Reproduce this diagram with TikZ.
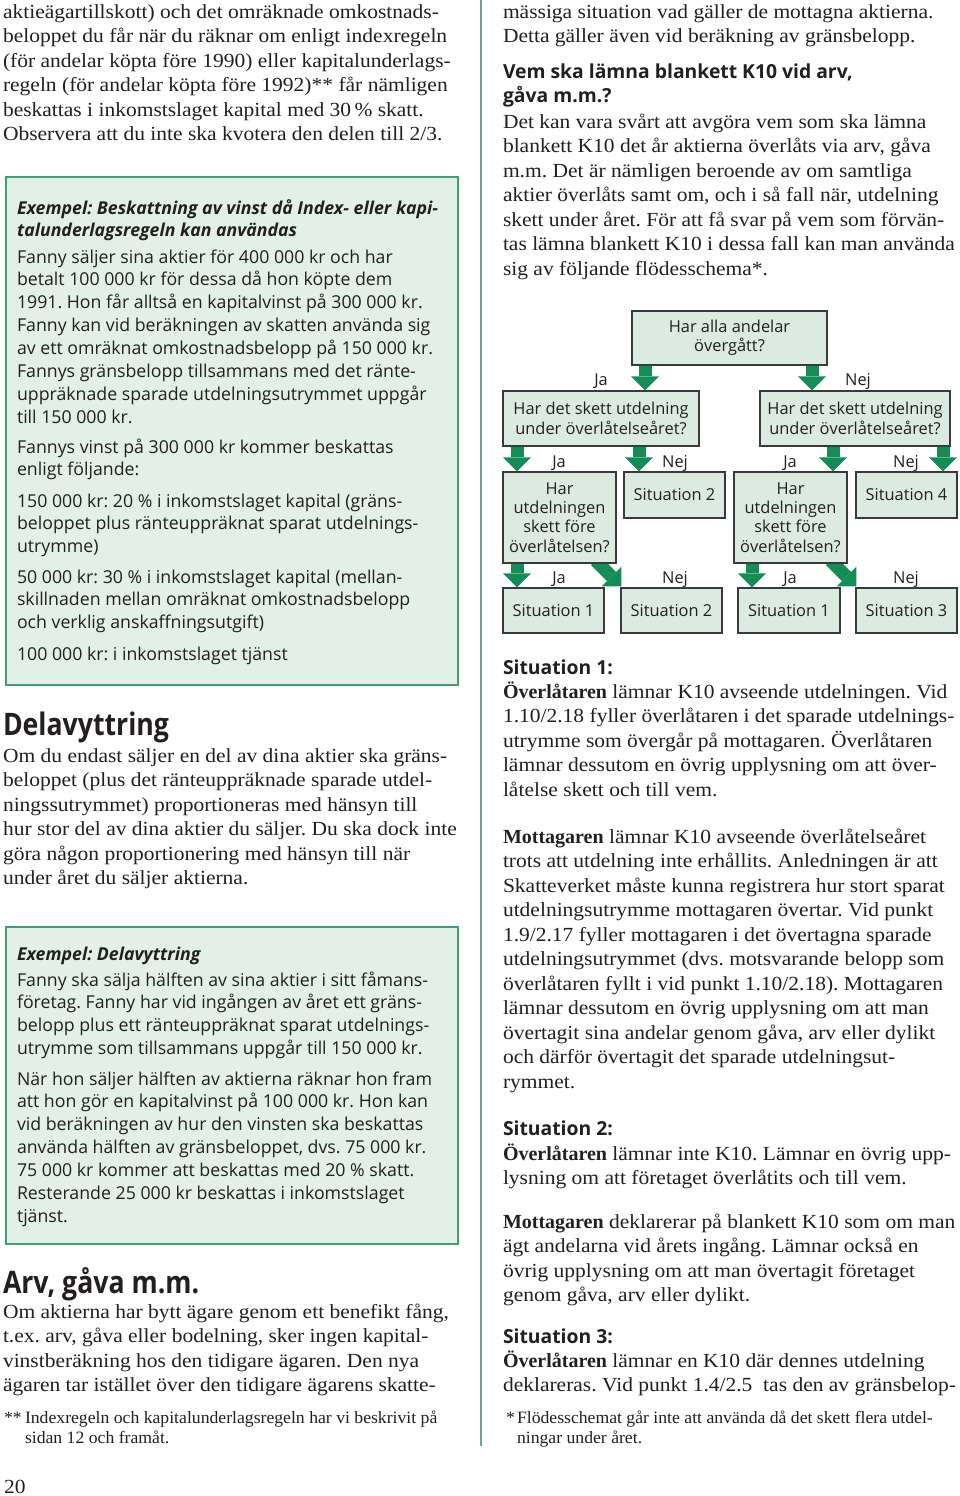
\documentclass[tikz,border=0pt]{standalone}
\usepackage{fontspec}
\setmainfont{Liberation Serif}[FakeStretch=1.075, BoldFeatures={FakeStretch=1.0}]
\setsansfont{Open Sans}
\newfontfamily\headfont{Open Sans}[FakeStretch=0.86]
\newfontfamily\notefont{Liberation Serif}[FakeStretch=1.02]
\usetikzlibrary{arrows.meta,calc}
\pgfdeclarelayer{bg}
\pgfsetlayers{bg,main}
\definecolor{ink}{HTML}{231F20}
\definecolor{exfill}{HTML}{E2F0E7}
\definecolor{exline}{HTML}{3F9F73}
\definecolor{flfill}{HTML}{DCEBE2}
\definecolor{flline}{HTML}{3A3A3A}
\definecolor{arrowc}{HTML}{138C55}
\definecolor{rulec}{HTML}{6FA58C}
\frenchspacing
\newcommand\ls[1]{\vtop{\lineskiplimit=-100pt\lineskip=0pt\halign{##\hfil\cr#1\crcr}}}
\tikzset{
  txt/.style={anchor=base west, inner sep=0pt, outer sep=0pt, text=ink},
  body/.style={txt, font=\fontsize{15pt}{18.4pt}\selectfont},
  sbody/.style={txt, font=\sffamily\fontsize{13.3pt}{17.2pt}\selectfont},
  sbhead/.style={txt, font=\sffamily\bfseries\itshape\fontsize{13.3pt}{17.2pt}\selectfont},
  bighead/.style={txt, font=\headfont\bfseries\fontsize{23.25pt}{28pt}\selectfont},
  subhead/.style={txt, font=\sffamily\bfseries\fontsize{14.5pt}{18pt}\selectfont},
  note/.style={txt, font=\notefont\fontsize{13pt}{15pt}\selectfont},
  exbox/.style={draw=exline, fill=exfill, line width=1.5pt, anchor=north west, inner sep=0pt},
  flbox/.style={draw=flline, fill=flfill, line width=0.8pt, inner sep=0pt, align=center, text=ink,
    font=\sffamily\fontsize{12.3pt}{14.6pt}\selectfont},
  fllab/.style={anchor=base, inner sep=0pt, text=ink, font=\sffamily\fontsize{12.3pt}{14.6pt}\selectfont},
  garrow/.style={draw=arrowc, line width=9.75pt,
    -{Triangle[width=21pt 0 0, length=10.5pt 0 0, line width=0pt 0 0, fill=arrowc]}},
}
\begin{document}
\begin{tikzpicture}[x=0.75pt, y=-0.75pt]
\useasboundingbox (0,0) rectangle (960,1496);
\begin{pgfonlayer}{bg}
\fill[white] (0,0) rectangle (960,1496);
\end{pgfonlayer}

% column divider
\draw[rulec, line width=1.1pt] (481,0) -- (481,1446);

% ---------------- left column ----------------
\node[body] (p1) at (3,18) {\ls{%
aktieägartillskott) och det omräknade omkostnads-\cr
beloppet du får när du räknar om enligt indexregeln\cr
(för andelar köpta före 1990) eller kapitalunderlags-\cr
regeln (för andelar köpta före 1992)** får nämligen\cr
beskattas i inkomstslaget kapital med 30\,\% skatt.\cr
Observera att du inte ska kvotera den delen till 2/3.}};

\node[exbox, minimum width=339pt, minimum height=381pt] (ex1) at (5,176) {};
\node[sbhead] (ex1h) at (17,214) {\ls{%
Exempel: Beskattning av vinst då Index- eller kapi-\cr
talunderlagsregeln kan användas}};
\node[sbody] (ex1a) at (17,263) {\ls{%
Fanny säljer sina aktier för 400 000 kr och har\cr
betalt 100 000 kr för dessa då hon köpte dem\cr
1991. Hon får alltså en kapitalvinst på 300 000 kr.\cr
Fanny kan vid beräkningen av skatten använda sig\cr
av ett omräknat omkostnadsbelopp på 150 000 kr.\cr
Fannys gränsbelopp tillsammans med det ränte-\cr
uppräknade sparade utdelningsutrymmet uppgår\cr
till 150 000 kr.}};
\node[sbody] (ex1b) at (17,453) {\ls{%
Fannys vinst på 300 000 kr kommer beskattas\cr
enligt följande:}};
\node[sbody] (ex1c) at (17,507) {\ls{%
150 000 kr: 20 \% i inkomstslaget kapital (gräns-\cr
beloppet plus ränteuppräknat sparat utdelnings-\cr
utrymme)}};
\node[sbody] (ex1d) at (17,583) {\ls{%
50 000 kr: 30 \% i inkomstslaget kapital (mellan-\cr
skillnaden mellan omräknat omkostnadsbelopp\cr
och verklig anskaffningsutgift)}};
\node[sbody] (ex1e) at (17,660) {100 000 kr: i inkomstslaget tjänst};

\node[bighead] (h1) at (3,735) {Delavyttring};
\node[body] (p2) at (3,762) {\ls{%
Om du endast säljer en del av dina aktier ska gräns-\cr
beloppet (plus det ränteuppräknade sparade utdel-\cr
ningssutrymmet) proportioneras med hänsyn till\cr
hur stor del av dina aktier du säljer. Du ska dock inte\cr
göra någon proportionering med hänsyn till när\cr
under året du säljer aktierna.}};

\node[exbox, minimum width=339pt, minimum height=237.75pt] (ex2) at (5,926) {};
\node[sbhead] (ex2h) at (17,960) {Exempel: Delavyttring};
\node[sbody] (ex2a) at (17,986) {\ls{%
Fanny ska sälja hälften av sina aktier i sitt fåmans-\cr
företag. Fanny har vid ingången av året ett gräns-\cr
belopp plus ett ränteuppräknat sparat utdelnings-\cr
utrymme som tillsammans uppgår till 150 000 kr.}};
\node[sbody] (ex2b) at (17,1085) {\ls{%
När hon säljer hälften av aktierna räknar hon fram\cr
att hon gör en kapitalvinst på 100 000 kr. Hon kan\cr
vid beräkningen av hur den vinsten ska beskattas\cr
använda hälften av gränsbeloppet, dvs. 75 000 kr.\cr
75 000 kr kommer att beskattas med 20 \% skatt.\cr
Resterande 25 000 kr beskattas i inkomstslaget\cr
tjänst.}};

\node[bighead] (h2) at (3,1293) {Arv, gåva m.m.};
\node[body] (p3) at (3,1318) {\ls{%
Om aktierna har bytt ägare genom ett benefikt fång,\cr
t.ex. arv, gåva eller bodelning, sker ingen kapital-\cr
vinstberäkning hos den tidigare ägaren. Den nya\cr
ägaren tar istället över den tidigare ägarens skatte-}};

\node[note] (fn1s) at (4,1423) {**};
\node[note] (fn1) at (25,1423) {\ls{%
Indexregeln och kapitalunderlagsregeln har vi beskrivit på\cr
sidan 12 och framåt.}};
\node[body] (pg) at (4,1493) {20};

% ---------------- right column ----------------
\node[body] (r1) at (503,18) {\ls{%
mässiga situation vad gäller de mottagna aktierna.\cr
Detta gäller även vid beräkning av gränsbelopp.}};
\node[subhead] (rh1) at (503,78.5) {\ls{%
Vem ska lämna blankett K10 vid arv,\cr
gåva m.m.?}};
\node[body] (r2) at (503,128) {\ls{%
Det kan vara svårt att avgöra vem som ska lämna\cr
blankett K10 det år aktierna överlåts via arv, gåva\cr
m.m. Det är nämligen beroende av om samtliga\cr
aktier överlåts samt om, och i så fall när, utdelning\cr
skett under året. För att få svar på vem som förvän-\cr
tas lämna blankett K10 i dessa fall kan man använda\cr
sig av följande flödesschema*.}};

% flowchart boxes
\node[flbox, minimum width=146.25pt, minimum height=40.5pt] (top) at (729.5,338) {Har alla andelar\\övergått?};
\node[flbox, minimum width=147pt, minimum height=41.25pt] (l2l) at (601,418.5) {Har det skett utdelning\\under överlåtelseåret?};
\node[flbox, minimum width=142.5pt, minimum height=41.25pt] (l2r) at (855,418.5) {Har det skett utdelning\\under överlåtelseåret?};
\node[flbox, minimum width=84.75pt, minimum height=68.25pt] (q3l) at (559.5,517.5) {Har\\utdelningen\\skett före\\överlåtelsen?};
\node[flbox, minimum width=75.75pt, minimum height=34.5pt] (s2a) at (674.5,495) {Situation 2};
\node[flbox, minimum width=84.75pt, minimum height=68.25pt] (q3r) at (790.5,517.5) {Har\\utdelningen\\skett före\\överlåtelsen?};
\node[flbox, minimum width=75.75pt, minimum height=34.5pt] (s4) at (906.5,495) {Situation 4};
\node[flbox, minimum width=75.75pt, minimum height=33.75pt] (s1a) at (553.5,610.5) {Situation 1};
\node[flbox, minimum width=75.75pt, minimum height=33.75pt] (s2b) at (671.5,610.5) {Situation 2};
\node[flbox, minimum width=76.5pt, minimum height=33.75pt] (s1b) at (789,610.5) {Situation 1};
\node[flbox, minimum width=75.75pt, minimum height=33.75pt] (s3) at (906.5,610.5) {Situation 3};

% x positions of vertical arrows
\coordinate (ax1) at (645,0);
\coordinate (ax2) at (812,0);
\coordinate (ax3) at (517,0);
\coordinate (ax4) at (639,0);
\coordinate (ax5) at (833,0);
\coordinate (ax6) at (943,0);
\coordinate (ax7) at (752,0);

\begin{pgfonlayer}{bg}
\draw[garrow] (top.south -| ax1) -- (l2l.north -| ax1);
\draw[garrow] (top.south -| ax2) -- (l2r.north -| ax2);
\draw[garrow] (l2l.south -| ax3) -- (q3l.north -| ax3);
\draw[garrow] (l2l.south -| ax4) -- (s2a.north -| ax4);
\draw[garrow] (l2r.south -| ax5) -- (q3r.north -| ax5);
\draw[garrow] (l2r.south -| ax6) -- (s4.north -| ax6);
\draw[garrow] (q3l.south -| ax3) -- (s1a.north -| ax3);
\draw[garrow] ($(q3l.south east)+(-21,-3)$) -- ($(s2b.north west)+(1,-1)$);
\draw[garrow] (q3r.south -| ax7) -- (s1b.north -| ax7);
\draw[garrow] ($(q3r.south east)+(-17,-3)$) -- ($(s3.north west)+(1,-1)$);
\end{pgfonlayer}

% flowchart labels
\node[fllab] (j1) at (601,385) {Ja};
\node[fllab] (n1) at (858,385) {Nej};
\node[fllab] (j2) at (559,467) {Ja};
\node[fllab] (n2) at (675,467) {Nej};
\node[fllab] (j3) at (790,467) {Ja};
\node[fllab] (n3) at (906,467) {Nej};
\node[fllab] (j4) at (559,583) {Ja};
\node[fllab] (n4) at (675,583) {Nej};
\node[fllab] (j5) at (790,583) {Ja};
\node[fllab] (n5) at (906,583) {Nej};

% situations text
\node[subhead] (sh1) at (503,674.5) {Situation 1:};
\node[body] (r3) at (503,698) {\ls{%
\textbf{Överlåtaren} lämnar K10 avseende utdelningen. Vid\cr
1.10/2.18 fyller överlåtaren i det sparade utdelnings-\cr
utrymme som övergår på mottagaren. Överlåtaren\cr
lämnar dessutom en övrig upplysning om att över-\cr
låtelse skett och till vem.}};
\node[body] (r4) at (503,843) {\ls{%
\textbf{Mottagaren} lämnar K10 avseende överlåtelseåret\cr
trots att utdelning inte erhållits. Anledningen är att\cr
Skatteverket måste kunna registrera hur stort sparat\cr
utdelningsutrymme mottagaren övertar. Vid punkt\cr
1.9/2.17 fyller mottagaren i det övertagna sparade\cr
utdelningsutrymmet (dvs. motsvarande belopp som\cr
överlåtaren fyllt i vid punkt 1.10/2.18). Mottagaren\cr
lämnar dessutom en övrig upplysning om att man\cr
övertagit sina andelar genom gåva, arv eller dylikt\cr
och därför övertagit det sparade utdelningsut-\cr
rymmet.}};
\node[subhead] (sh2) at (503,1135.5) {Situation 2:};
\node[body] (r5) at (503,1160) {\ls{%
\textbf{Överlåtaren} lämnar inte K10. Lämnar en övrig upp-\cr
lysning om att företaget överlåtits och till vem.}};
\node[body] (r6) at (503,1228) {\ls{%
\textbf{Mottagaren} deklarerar på blankett K10 som om man\cr
ägt andelarna vid årets ingång. Lämnar också en\cr
övrig upplysning om att man övertagit företaget\cr
genom gåva, arv eller dylikt.}};
\node[subhead] (sh3) at (503,1343.5) {Situation 3:};
\node[body] (r7) at (503,1367) {\ls{%
\textbf{Överlåtaren} lämnar en K10 där dennes utdelning\cr
deklareras. Vid punkt 1.4/2.5\ \ tas den av gränsbelop-}};

\node[note] (fn2s) at (506,1423) {*};
\node[note] (fn2) at (517,1423) {\ls{%
Flödesschemat går inte att använda då det skett flera utdel-\cr
ningar under året.}};
\end{tikzpicture}
\end{document}
